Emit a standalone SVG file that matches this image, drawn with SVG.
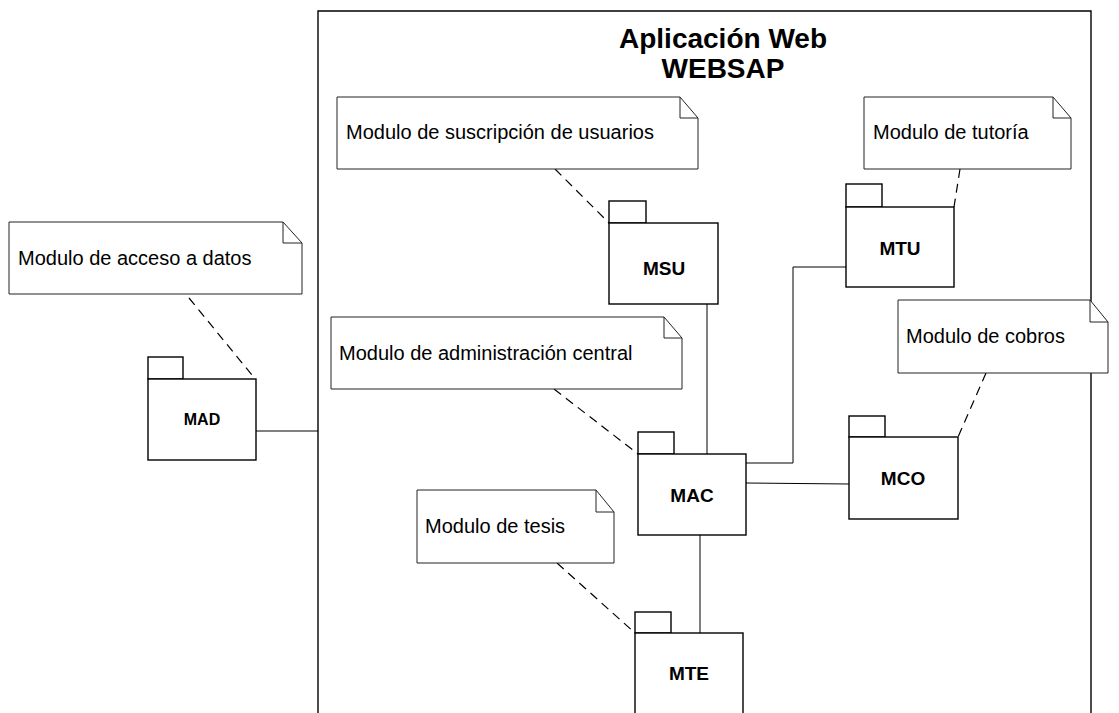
<svg xmlns="http://www.w3.org/2000/svg" width="1119" height="713" viewBox="0 0 1119 713">
<style>
.note{fill:#fff;stroke:#222;stroke-width:1}
.fold{fill:none;stroke:#222;stroke-width:1}
.pkg{fill:#fff;stroke:#000;stroke-width:1.4}
.ntext{font-family:"Liberation Sans",Arial,sans-serif;font-size:20px;fill:#000}
.ptext{font-family:"Liberation Sans",Arial,sans-serif;font-size:19px;font-weight:bold;fill:#000;text-anchor:middle}
.title{font-family:"Liberation Sans",Arial,sans-serif;font-size:28px;font-weight:bold;fill:#000;text-anchor:middle}
.solid{fill:none;stroke:#000;stroke-width:1}
.dash{fill:none;stroke:#000;stroke-width:1.2;stroke-dasharray:9,6}
</style>
<rect width="1119" height="713" fill="#fff"/>
<g id="frame">
<path d="M318,713 V11 H1091 V713" fill="none" stroke="#000" stroke-width="1.4"/>
<text class="title" x="723" y="48">Aplicación Web</text>
<text class="title" x="723" y="78">WEBSAP</text>
</g>
<g id="connectors">
<line class="solid" x1="256" y1="431" x2="318" y2="431"/>
<line class="solid" x1="707" y1="304" x2="707" y2="454"/>
<polyline class="solid" points="846,267 793,267 793,463 746,463"/>
<line class="solid" x1="746" y1="483" x2="849" y2="484"/>
<line class="solid" x1="700" y1="535" x2="700" y2="633"/>
<line class="dash" x1="189" y1="298" x2="252" y2="375"/>
<line class="dash" x1="555" y1="169" x2="609" y2="223"/>
<line class="dash" x1="960" y1="169" x2="954" y2="207"/>
<line class="dash" x1="554" y1="389" x2="638" y2="454"/>
<line class="dash" x1="986" y1="373" x2="958" y2="437"/>
<line class="dash" x1="557" y1="563" x2="635" y2="633"/>
</g>
<g id="note-mad">
<path class="note" d="M9,222 H283 L302,243 V294 H9 Z"/>
<path class="fold" d="M283,222 V243 H302"/>
<text class="ntext" x="18" y="265">Modulo de acceso a datos</text>
</g>
<g id="note-msu">
<path class="note" d="M337,97 H680 L698,118 V169 H337 Z"/>
<path class="fold" d="M680,97 V118 H698"/>
<text class="ntext" x="346" y="139">Modulo de suscripción de usuarios</text>
</g>
<g id="note-mtu">
<path class="note" d="M864,97 H1053 L1071,118 V169 H864 Z"/>
<path class="fold" d="M1053,97 V118 H1071"/>
<text class="ntext" x="873" y="139">Modulo de tutoría</text>
</g>
<g id="note-mac">
<path class="note" d="M331,317 H664 L682,338 V389 H331 Z"/>
<path class="fold" d="M664,317 V338 H682"/>
<text class="ntext" x="339" y="360">Modulo de administración central</text>
</g>
<g id="note-mco">
<path class="note" d="M898,300 H1090 L1108,322 V373 H898 Z"/>
<path class="fold" d="M1090,300 V322 H1108"/>
<text class="ntext" x="906" y="343">Modulo de cobros</text>
</g>
<g id="note-mte">
<path class="note" d="M417,490 H596 L614,512 V563 H417 Z"/>
<path class="fold" d="M596,490 V512 H614"/>
<text class="ntext" x="425" y="533">Modulo de tesis</text>
</g>
<g id="pkg-mad">
<rect class="pkg" x="148" y="357" width="35" height="22"/>
<rect class="pkg" x="148" y="379" width="108" height="81"/>
<text class="ptext" x="202" y="425" style="font-size:16px">MAD</text>
</g>
<g id="pkg-msu">
<rect class="pkg" x="609" y="201" width="37" height="22"/>
<rect class="pkg" x="609" y="223" width="109" height="81"/>
<text class="ptext" x="664" y="275">MSU</text>
</g>
<g id="pkg-mtu">
<rect class="pkg" x="846" y="184" width="36" height="23"/>
<rect class="pkg" x="846" y="207" width="108" height="80"/>
<text class="ptext" x="900" y="255">MTU</text>
</g>
<g id="pkg-mac">
<rect class="pkg" x="638" y="432" width="36" height="22"/>
<rect class="pkg" x="638" y="454" width="108" height="81"/>
<text class="ptext" x="692" y="502">MAC</text>
</g>
<g id="pkg-mco">
<rect class="pkg" x="849" y="416" width="36" height="21"/>
<rect class="pkg" x="849" y="437" width="109" height="82"/>
<text class="ptext" x="903" y="485">MCO</text>
</g>
<g id="pkg-mte">
<rect class="pkg" x="635" y="612" width="36" height="21"/>
<rect class="pkg" x="635" y="633" width="108" height="90"/>
<text class="ptext" x="689" y="680">MTE</text>
</g>
</svg>
